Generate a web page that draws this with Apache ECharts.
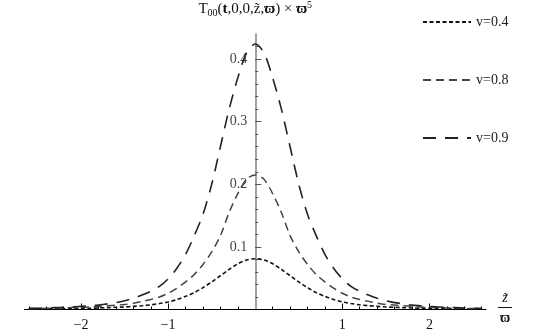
<!DOCTYPE html>
<html>
<head>
<meta charset="utf-8">
<script src="https://cdn.jsdelivr.net/npm/echarts@6/dist/echarts.min.js"></script>
<style>html,body{margin:0;padding:0;background:#fff}#c{width:545px;height:336px}</style>
</head>
<body>
<div id="c"></div>
<script>
// sample positions z/ϖ
var xs = [-2.6,-2.5,-2.4,-2.3,-2.2,-2.1,-2.0,-1.9,-1.8,-1.7,-1.6,-1.5,-1.4,-1.3,-1.2,-1.1,-1.0,-0.9,-0.8,-0.7,-0.6,-0.5,-0.4,-0.3,-0.2,-0.1,0,
          0.1,0.2,0.3,0.4,0.5,0.6,0.7,0.8,0.9,1.0,1.1,1.2,1.3,1.4,1.5,1.6,1.7,1.8,1.9,2.0,2.1,2.2,2.3,2.4,2.5,2.6];
var v04 = [0.001,0.001,0.0012,0.0013,0.0015,0.0018,0.002,0.002,0.0025,0.003,0.0035,0.004,0.005,0.006,0.0075,0.0095,0.012,0.016,0.021,0.027,0.035,0.044,0.054,0.064,0.073,0.079,
           0.081,
           0.079,0.073,0.064,0.054,0.044,0.035,0.027,0.021,0.016,0.012,0.0095,0.0075,0.006,0.005,0.004,0.0035,0.003,0.0025,0.002,0.002,0.0018,0.0015,0.0013,0.0012,0.001,0.001];
var v08 = [0.0015,0.0015,0.002,0.002,0.0025,0.003,0.0035,0.004,0.005,0.006,0.007,0.008,0.010,0.013,0.016,0.020,0.026,0.034,0.044,0.056,0.072,0.092,0.118,0.155,0.185,0.208,
           0.215,
           0.208,0.185,0.155,0.118,0.092,0.072,0.056,0.044,0.034,0.026,0.020,0.016,0.013,0.010,0.008,0.007,0.006,0.005,0.004,0.0035,0.003,0.0025,0.002,0.002,0.0015,0.0015];
var v09 = [0.002,0.002,0.0025,0.003,0.0035,0.004,0.005,0.006,0.007,0.009,0.011,0.014,0.018,0.023,0.029,0.037,0.049,0.066,0.088,0.118,0.152,0.20,0.26,0.32,0.37,0.41,
           0.424,
           0.41,0.37,0.32,0.26,0.20,0.152,0.118,0.088,0.066,0.049,0.037,0.029,0.023,0.018,0.014,0.011,0.009,0.007,0.006,0.005,0.004,0.0035,0.003,0.0025,0.002,0.002];
var seriesNames = ['v=0.4','v=0.8','v=0.9'];
var xMajor = [-2,-1,1,2];
var xMinor = [-2.6,-2.4,-2.2,-2.0,-1.8,-1.6,-1.4,-1.2,-1.0,-0.8,-0.6,-0.4,-0.2,0.2,0.4,0.6,0.8,1.0,1.2,1.4,1.6,1.8,2.0,2.2,2.4,2.6];
var yMajor = [0.1,0.2,0.3,0.4];
var yMinor = [0.02,0.04,0.06,0.08,0.1,0.12,0.14,0.16,0.18,0.2,0.22,0.24,0.26,0.28,0.3,0.32,0.34,0.36,0.38,0.4,0.42];

function pairs(vals){ return xs.map(function(x,i){ return [x, vals[i]]; }); }

var FONT = '"Liberation Serif","DejaVu Serif",serif';
var GL = 24.5, GR = 59, W = 545;
var X_MIN = -2.65, X_MAX = 2.65;
// shift y axis from the grid's left edge to x = 0
var yShift = -(W - GL - GR) * (0 - X_MIN) / (X_MAX - X_MIN);

var chart = echarts.init(document.getElementById('c'), null, {renderer:'canvas'});
chart.setOption({
  animation:false,
  backgroundColor:'#fff',
  textStyle:{fontFamily:FONT},
  grid:{left:GL, right:GR, top:27, bottom:26.5, containLabel:false},
  legend:{
    orient:'vertical', left:417, top:10, itemGap:44,
    itemWidth:48, itemHeight:10,
    itemStyle:{opacity:0},
    textStyle:{fontFamily:FONT, fontSize:14, color:'#222'},
    data:seriesNames
  },
  xAxis:[{
    type:'value', min:X_MIN, max:X_MAX,
    axisLine:{show:true, onZero:false, lineStyle:{color:'#000', width:1}},
    axisTick:{show:true, inside:true, length:6, customValues:xMajor, lineStyle:{color:'#000'}},
    axisLabel:{show:true, customValues:xMajor, margin:9, fontFamily:FONT, fontSize:14, color:'#111',
      formatter:function(v){ return String(v).replace('-', '\u2212'); }},
    splitLine:{show:false},
    name:'{n|z\u0303}\n{bar| }\n{d|\u03d6}',
    nameLocation:'end', nameGap:19,
    nameTextStyle:{align:'center', verticalAlign:'middle',
      rich:{
        n:{fontFamily:FONT, fontSize:14, fontStyle:'italic', color:'#111', width:14, align:'center', lineHeight:14},
        bar:{width:14, height:1, lineHeight:4, fontSize:1, backgroundColor:'#111'},
        d:{fontFamily:FONT, fontSize:14, fontWeight:'bold', color:'#111', width:14, align:'center', lineHeight:18}
      }}
  },{
    type:'value', min:X_MIN, max:X_MAX, position:'bottom',
    axisLine:{show:false, onZero:false},
    axisTick:{show:true, inside:true, length:3, customValues:xMinor, lineStyle:{color:'#000'}},
    axisLabel:{show:false},
    splitLine:{show:false}
  }],
  yAxis:[{
    type:'value', min:0, max:0.44, position:'left', offset:yShift,
    axisLine:{show:true, onZero:false, lineStyle:{color:'#808080', width:1.5}},
    axisTick:{show:true, inside:true, length:6, customValues:yMajor, lineStyle:{color:'#555'}},
    axisLabel:{show:true, customValues:yMajor, margin:8, fontFamily:FONT, fontSize:14, color:'#444'},
    splitLine:{show:false},
    name:'{a|T}{sub|00}{a|(}{b|t}{a|,0,0,z\u0303,}{b|\u03d6}{a|) \u00d7 }{b|\u03d6}{sup|5}',
    nameLocation:'end', nameGap:15,
    nameTextStyle:{align:'center',
      rich:{
        a:{fontFamily:FONT, fontSize:15, color:'#111'},
        b:{fontFamily:FONT, fontSize:15, fontWeight:'bold', color:'#111'},
        sub:{fontFamily:FONT, fontSize:10, color:'#111', padding:[7,0,0,0]},
        sup:{fontFamily:FONT, fontSize:10, color:'#111', padding:[0,0,9,0]}
      }}
  },{
    type:'value', min:0, max:0.44, position:'left', offset:yShift,
    axisLine:{show:false, onZero:false},
    axisTick:{show:true, inside:true, length:3, customValues:yMinor, lineStyle:{color:'#555'}},
    axisLabel:{show:false},
    splitLine:{show:false}
  }],
  series:[
    {name:'v=0.4', type:'line', xAxisIndex:0, yAxisIndex:0, data:pairs(v04), smooth:0.3, symbol:'none',
     lineStyle:{color:'#111', width:1.6, type:[4,2.5]}},
    {name:'v=0.8', type:'line', xAxisIndex:0, yAxisIndex:0, data:pairs(v08), smooth:0.3, symbol:'none',
     lineStyle:{color:'#444', width:1.5, type:[8,5]}},
    {name:'v=0.9', type:'line', xAxisIndex:0, yAxisIndex:0, data:pairs(v09), smooth:0.3, symbol:'none',
     lineStyle:{color:'#222', width:1.6, type:[13,9]}}
  ]
});
</script>
</body>
</html>
